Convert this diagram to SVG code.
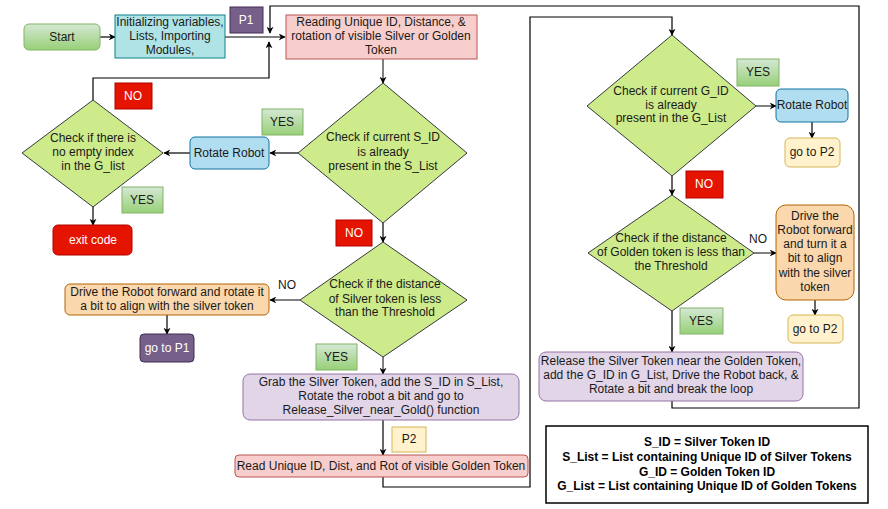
<svg xmlns="http://www.w3.org/2000/svg" width="888" height="509" viewBox="0 0 888 509">
<defs>
<linearGradient id="gg" x1="0" y1="0" x2="0" y2="1"><stop offset="0" stop-color="#d5e8d4"/><stop offset="1" stop-color="#97d077"/></linearGradient>
<marker id="ar" viewBox="0 0 10 10" refX="9" refY="5" markerWidth="7" markerHeight="7" orient="auto" markerUnits="userSpaceOnUse"><path d="M0,0 L10,5 L0,10 L3,5 Z" fill="#000"/></marker>
</defs>
<style>
text{font-family:"Liberation Sans",Arial,sans-serif;font-size:12px;fill:#1a1a1a;text-anchor:middle}
.w{fill:#fff}
.b{font-weight:bold;fill:#000}
.green{fill:url(#gg);stroke:#82b366}
.dia{fill:#cdeb8b;stroke:#36393d}
.cyan{fill:#b0e3e6;stroke:#0e8088}
.pur{fill:#76608a;stroke:#432d57}
.red{fill:#f8cecc;stroke:#b85450}
.blue{fill:#b1ddf0;stroke:#10739e}
.rd{fill:#e51400;stroke:#b20000}
.or{fill:#fad7ac;stroke:#b46504}
.lil{fill:#e1d5e7;stroke:#9673a6}
.yel{fill:#fff2cc;stroke:#d6b656}
.c{fill:none;stroke:#000;stroke-width:1.2;marker-end:url(#ar)}
.cn{fill:none;stroke:#000;stroke-width:1.2}
.g{fill:none;stroke:#808080;stroke-width:2;marker-end:url(#ar)}
</style>
<g id="connectors">
<path class="c" d="M100,37 L115,37"/>
<path class="g" d="M225,37 L285,37"/>
<path class="c" d="M672,401 L672,408 L859,408 L859,6 L270,6 L270,33"/>
<path class="c" d="M93,100 L93,78 L269,78 L269,42"/>
<path class="g" d="M383,59 L383,83"/>
<path class="c" d="M298,153 L270,153"/>
<path class="c" d="M190,153 L164,153"/>
<path class="c" d="M93,207 L93,225"/>
<path class="c" d="M383,223 L383,242"/>
<path class="g" d="M300,300 L270,300"/>
<path class="c" d="M167,315 L167,334"/>
<path class="g" d="M383,357 L383,374"/>
<path class="c" d="M383,420 L383,455"/>
<path class="c" d="M383,477 L383,487 L530,487 L530,17 L672,17 L672,35"/>
<path class="g" d="M756,106 L776,106"/>
<path class="c" d="M812,122 L812,138"/>
<path class="c" d="M672,176 L672,195"/>
<path class="g" d="M754,253 L776,253"/>
<path class="c" d="M815,300 L815,315"/>
<path class="c" d="M672,311 L672,352"/>
</g>
<g id="start"><rect class="green" x="24" y="24" width="76" height="26" rx="5"/><text x="62" y="41">Start</text></g>
<g id="init"><rect class="cyan" x="115" y="15" width="110" height="43"/><text x="170" y="26">Initializing variables,</text><text x="170" y="40">Lists, Importing</text><text x="170" y="54">Modules,</text></g>
<g id="p1"><rect class="pur" x="230" y="7" width="33" height="26"/><text class="w" x="246" y="24">P1</text></g>
<g id="reading"><rect class="red" x="286" y="15" width="191" height="44"/><text x="381" y="26">Reading Unique ID, Distance, &amp;</text><text x="381" y="40">rotation of visible Silver or Golden</text><text x="381" y="54">Token</text></g>
<g id="d1"><polygon class="dia" points="383,83 467,153 383,223 298,153"/><text x="383" y="141">Check if current S_ID</text><text x="383" y="156">is already</text><text x="383" y="170">present in the S_List</text></g>
<g id="yes1"><rect class="green" x="262" y="109" width="41" height="26"/><text x="282" y="126">YES</text></g>
<g id="rot1"><rect class="blue" x="190" y="137" width="79" height="32" rx="5"/><text x="229" y="157">Rotate Robot</text></g>
<g id="d2"><polygon class="dia" points="93,100 163,153 93,207 22,153"/><text x="93" y="142">Check if there is</text><text x="93" y="156">no empty index</text><text x="93" y="170">in the G_list</text></g>
<g id="no1"><rect class="rd" x="115" y="83" width="37" height="26"/><text class="w" x="133" y="100">NO</text></g>
<g id="yes2"><rect class="green" x="122" y="187" width="41" height="26"/><text x="142" y="204">YES</text></g>
<g id="exit"><rect class="rd" x="53" y="225" width="79" height="30" rx="5"/><text class="w" x="93" y="244">exit code</text></g>
<g id="no2"><rect class="rd" x="336" y="220" width="36" height="26"/><text class="w" x="354" y="237">NO</text></g>
<g id="d3"><polygon class="dia" points="383,242 467,300 383,357 300,300"/><text x="385" y="288">Check if the distance</text><text x="385" y="303">of Silver token is less</text><text x="385" y="316">than the Threshold</text></g>
<text x="287" y="289">NO</text>
<g id="drive1"><rect class="or" x="65" y="284" width="204" height="31" rx="5"/><text x="167" y="296">Drive the Robot forward and rotate it</text><text x="167" y="310">a bit to align with the silver token</text></g>
<g id="gop1"><rect class="pur" x="140" y="334" width="54" height="28" rx="4"/><text class="w" x="167" y="352">go to P1</text></g>
<g id="yes3"><rect class="green" x="316" y="344" width="41" height="26"/><text x="336" y="361">YES</text></g>
<g id="grab"><rect class="lil" x="243" y="374" width="276" height="46" rx="7"/><text x="381" y="386">Grab the Silver Token, add the S_ID in S_List,</text><text x="381" y="400">Rotate the robot a bit and go to</text><text x="381" y="414">Release_Silver_near_Gold() function</text></g>
<g id="p2"><rect class="yel" x="392" y="427" width="34" height="25"/><text x="409" y="443">P2</text></g>
<g id="readg"><rect class="red" x="235" y="455" width="293" height="22" rx="4"/><text x="381" y="470">Read Unique ID, Dist, and Rot of visible Golden Token</text></g>
<g id="d4"><polygon class="dia" points="672,35 756,106 672,176 587,106"/><text x="671" y="95">Check if current G_ID</text><text x="671" y="109">is already</text><text x="671" y="122">present in the G_List</text></g>
<g id="yes4"><rect class="green" x="737" y="59" width="42" height="27"/><text x="758" y="76">YES</text></g>
<g id="rot2"><rect class="blue" x="776" y="89" width="72" height="33" rx="5"/><text x="812" y="109">Rotate Robot</text></g>
<g id="gop2a"><rect class="yel" x="785" y="138" width="55" height="29" rx="5"/><text x="812" y="156">go to P2</text></g>
<g id="no3"><rect class="rd" x="686" y="171" width="37" height="27"/><text class="w" x="704" y="188">NO</text></g>
<g id="d5"><polygon class="dia" points="672,195 754,253 672,311 588,253"/><text x="671" y="242">Check if the distance</text><text x="671" y="256">of Golden token is less than</text><text x="671" y="270">the Threshold</text></g>
<text x="758" y="243">NO</text>
<g id="drive2"><rect class="or" x="776" y="205" width="78" height="95" rx="10"/><text x="815" y="220">Drive the</text><text x="815" y="234">Robot forward</text><text x="815" y="248">and turn it a</text><text x="815" y="262">bit to align</text><text x="815" y="277">with the silver</text><text x="815" y="291">token</text></g>
<g id="gop2b"><rect class="yel" x="788" y="315" width="55" height="28" rx="5"/><text x="815" y="333">go to P2</text></g>
<g id="yes5"><rect class="green" x="680" y="308" width="43" height="26"/><text x="701" y="325">YES</text></g>
<g id="release"><rect class="lil" x="539" y="352" width="264" height="49" rx="7"/><text x="671" y="365">Release the Silver Token near the Golden Token,</text><text x="671" y="379">add the G_ID in G_List, Drive the Robot back, &amp;</text><text x="671" y="393">Rotate a bit and break the loop</text></g>
<g id="legend"><rect x="546" y="426" width="322" height="77" fill="#fff" stroke="#000" stroke-width="1.5"/><text class="b" x="707" y="446">S_ID = Silver Token ID</text><text class="b" x="707" y="461">S_List = List containing Unique ID of Silver Tokens</text><text class="b" x="707" y="476">G_ID = Golden Token ID</text><text class="b" x="707" y="490">G_List = List containing Unique ID of Golden Tokens</text></g>
</svg>
